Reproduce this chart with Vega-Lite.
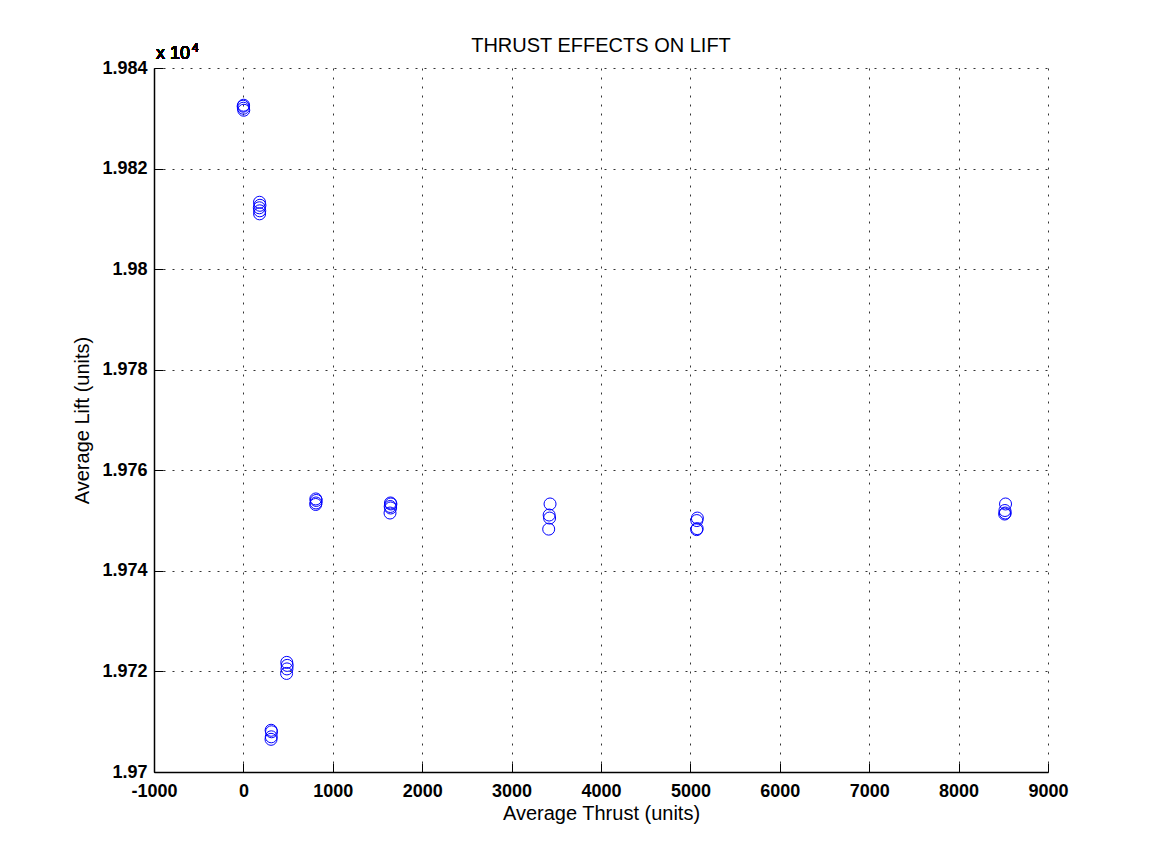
{
  "$schema": "https://vega.github.io/schema/vega-lite/v6.json",
  "width": 894,
  "height": 704,
  "autosize": "none",
  "padding": {"left": 154, "top": 68, "right": 103, "bottom": 94},
  "background": "white",
  "title": {
    "text": "THRUST EFFECTS ON LIFT",
    "font": "Liberation Sans",
    "fontSize": 20,
    "fontWeight": "normal",
    "color": "black",
    "anchor": "middle",
    "frame": "group",
    "offset": -14
  },
  "config": {
    "view": {"stroke": null},
    "font": "Liberation Sans"
  },
  "data": {
    "values": [
      {"thrust": 2, "lift": 19832.6},
      {"thrust": -3, "lift": 19832.4},
      {"thrust": 0, "lift": 19832.0},
      {"thrust": 4, "lift": 19831.6},
      {"thrust": 180, "lift": 19813.3},
      {"thrust": 185, "lift": 19812.7},
      {"thrust": 178, "lift": 19812.2},
      {"thrust": 183, "lift": 19811.6},
      {"thrust": 181, "lift": 19811.0},
      {"thrust": 310, "lift": 19708.3},
      {"thrust": 315, "lift": 19708.0},
      {"thrust": 312, "lift": 19707.0},
      {"thrust": 309, "lift": 19706.5},
      {"thrust": 485, "lift": 19721.8},
      {"thrust": 490, "lift": 19721.2},
      {"thrust": 487, "lift": 19720.5},
      {"thrust": 483, "lift": 19719.6},
      {"thrust": 810, "lift": 19754.3},
      {"thrust": 815, "lift": 19754.0},
      {"thrust": 812, "lift": 19753.5},
      {"thrust": 809, "lift": 19753.2},
      {"thrust": 1645, "lift": 19753.5},
      {"thrust": 1650, "lift": 19753.3},
      {"thrust": 1642, "lift": 19752.8},
      {"thrust": 1647, "lift": 19752.5},
      {"thrust": 1640, "lift": 19751.5},
      {"thrust": 3430, "lift": 19753.3},
      {"thrust": 3420, "lift": 19751.1},
      {"thrust": 3425, "lift": 19750.5},
      {"thrust": 3415, "lift": 19748.3},
      {"thrust": 5078, "lift": 19750.5},
      {"thrust": 5072, "lift": 19750.0},
      {"thrust": 5076, "lift": 19748.4},
      {"thrust": 5070, "lift": 19748.2},
      {"thrust": 8525, "lift": 19753.3},
      {"thrust": 8518, "lift": 19752.0},
      {"thrust": 8522, "lift": 19751.5},
      {"thrust": 8515, "lift": 19751.3}
    ]
  },
  "layer": [
    {
      "mark": {"type": "point", "shape": "circle", "filled": false, "color": "#0000ff", "strokeWidth": 1, "size": 144, "opacity": 1, "clip": false},
      "encoding": {
        "x": {
          "field": "thrust",
          "type": "quantitative",
          "scale": {"domain": [-1000, 9000], "nice": false, "zero": false},
          "axis": {
            "values": [-1000, 0, 1000, 2000, 3000, 4000, 5000, 6000, 7000, 8000, 9000],
            "labelExpr": "'' + datum.value",
            "title": "Average Thrust (units)",
            "titleFont": "Liberation Sans",
            "titleFontSize": 20,
            "titleFontWeight": "normal",
            "titleColor": "black",
            "titlePadding": 3,
            "labelFont": "Liberation Sans",
            "labelFontSize": 18,
            "labelFontWeight": "bold",
            "labelColor": "black",
            "labelPadding": 19,
            "labelFlush": false,
            "labelOverlap": false,
            "domainColor": "black",
            "domainWidth": 1.5,
            "tickColor": "black",
            "tickSize": -9,
            "tickWidth": 1,
            "grid": true,
            "gridColor": "#333333",
            "gridWidth": 1,
            "gridDash": [2, 7]
          }
        },
        "y": {
          "field": "lift",
          "type": "quantitative",
          "scale": {"domain": [19700, 19840], "nice": false, "zero": false},
          "axis": {
            "values": [19700, 19720, 19740, 19760, 19780, 19800, 19820, 19840],
            "labelExpr": "format(datum.value / 10000, '.3~f')",
            "title": "Average Lift (units)",
            "titleFont": "Liberation Sans",
            "titleFontSize": 20,
            "titleFontWeight": "normal",
            "titleColor": "black",
            "titlePadding": 9,
            "labelFont": "Liberation Sans",
            "labelFontSize": 18,
            "labelFontWeight": "bold",
            "labelColor": "black",
            "labelPadding": 16,
            "labelFlush": false,
            "labelOverlap": false,
            "domainColor": "black",
            "domainWidth": 1.5,
            "tickColor": "black",
            "tickSize": -9,
            "tickWidth": 1,
            "grid": true,
            "gridColor": "#333333",
            "gridWidth": 1,
            "gridDash": [2, 7]
          }
        }
      }
    },
    {
      "mark": {"type": "text", "text": "x 10", "font": "Liberation Sans", "fontSize": 18, "color": "black", "align": "left", "baseline": "alphabetic", "dx": 2, "dy": -9},
      "encoding": {
        "x": {"datum": -1000, "type": "quantitative"},
        "y": {"datum": 19840, "type": "quantitative"}
      }
    },
    {
      "mark": {"type": "text", "text": "4", "font": "Liberation Sans", "fontSize": 12, "color": "black", "align": "left", "baseline": "alphabetic", "dx": 38, "dy": -16},
      "encoding": {
        "x": {"datum": -1000, "type": "quantitative"},
        "y": {"datum": 19840, "type": "quantitative"}
      }
    }
  ]
}
